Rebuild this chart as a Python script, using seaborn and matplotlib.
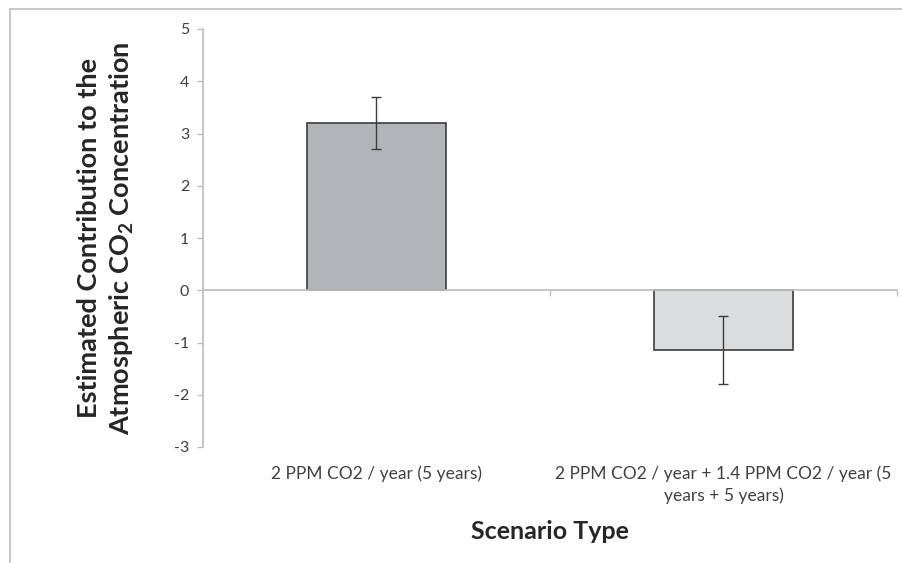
import matplotlib
matplotlib.use("Agg")
import matplotlib.pyplot as plt
import seaborn as sns
import pandas as pd
from matplotlib.lines import Line2D

# Dados
scenarios = ["2 PPM CO2 / year (5 years)",
             "2 PPM CO2 / year + 1.4 PPM CO2 / year (5\nyears + 5 years)"]
contribution = [3.2, -1.15]
error = [0.5, 0.65]
bar_colors = ["#b3b4b7", "#dbdcde"]

df = pd.DataFrame({"scenario": scenarios, "value": contribution})

sns.set_theme(style="white")
plt.rcParams["font.family"] = ["Lato", "DejaVu Sans"]
plt.rcParams["mathtext.fontset"] = "custom"
plt.rcParams["mathtext.rm"] = "Lato"
plt.rcParams["mathtext.bf"] = "Lato:bold"
plt.rcParams["axes.unicode_minus"] = False

fig = plt.figure(figsize=(9.03, 5.63), dpi=100)
W, H = 903, 563
ax = fig.add_axes([203 / W, 1 - 447 / H, (897 - 203) / W, (447 - 29) / H])

sns.barplot(data=df, x="scenario", y="value", hue="scenario", palette=bar_colors,
            width=0.4, edgecolor="#3c3c3c", linewidth=1.2, errorbar=None,
            legend=False, ax=ax)
ax.errorbar(range(len(scenarios)), contribution, yerr=error, fmt="none",
            ecolor="#3c3c3c", elinewidth=1, capsize=3.5, capthick=1)

axis_gray = "#bfbfbf"
ax.set_ylim(-3, 5)
ax.set_xlim(-0.5, 1.5)
ax.set_yticks(range(-3, 6))
for s in ["top", "right"]:
    ax.spines[s].set_visible(False)
ax.spines["left"].set_color(axis_gray)
ax.spines["bottom"].set_color(axis_gray)
ax.spines["bottom"].set_position(("data", 0))

ax.tick_params(axis="y", direction="out", length=4, width=1, color=axis_gray,
               labelsize=11.5, labelcolor="#404040", pad=6, left=True)
ax.set_xticks([0, 1])
ax.set_xticklabels(scenarios, linespacing=1.4)
ax.set_xticks([0.5, 1.5], minor=True)
ax.tick_params(axis="x", which="major", length=0, labelsize=12.5,
               labelcolor="#404040", pad=126)
ax.tick_params(axis="x", which="minor", direction="out", length=4, width=1,
               color=axis_gray, bottom=True)

ax.set_ylabel("Estimated Contribution to the\nAtmospheric CO$_\\mathbf{2}$ Concentration",
              fontsize=19.5, fontweight="bold", color="#262626", linespacing=1.3)
ax.yaxis.set_label_coords(-0.097, 0.5)
ax.set_xlabel("Scenario Type", fontsize=18, fontweight="bold", color="#262626")
ax.xaxis.set_label_coords(0.5, -0.175)

# Moldura do gráfico (estilo Excel)
fig.add_artist(Line2D([10 / W, 10 / W], [0, 1 - 9 / H], color=axis_gray, lw=1.2,
                      transform=fig.transFigure))
fig.add_artist(Line2D([10 / W, 1], [1 - 9 / H, 1 - 9 / H], color=axis_gray, lw=1.2,
                      transform=fig.transFigure))

fig.savefig("out.png", dpi=100)
